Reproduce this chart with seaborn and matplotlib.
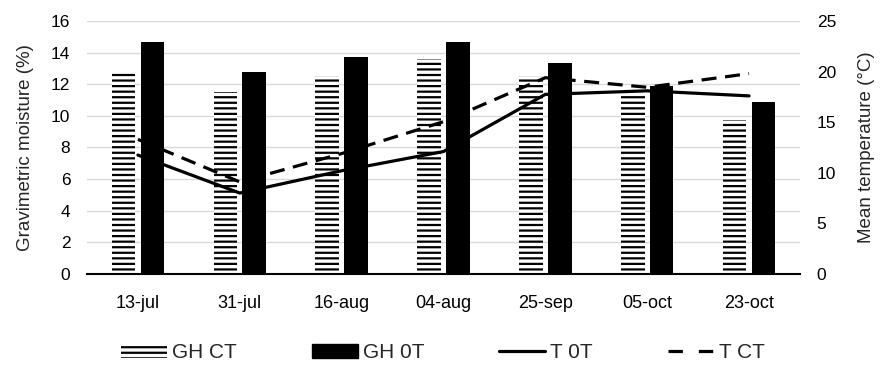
import numpy as np
import pandas as pd
import seaborn as sns
import matplotlib.pyplot as plt
from matplotlib.patches import Patch
from matplotlib.lines import Line2D

# data
dates = ['13-jul', '31-jul', '16-aug', '04-aug', '25-sep', '05-oct', '23-oct']
gh_ct = [12.85, 11.5, 12.55, 13.6, 12.55, 11.3, 9.75]   # gravimetric moisture (%)
gh_0t = [14.7, 12.8, 13.7, 14.7, 13.35, 11.9, 10.85]
t_0t = [11.75, 8.0, 10.2, 12.1, 17.75, 18.1, 17.6]      # mean temperature (C)
t_ct = [13.3, 9.1, 11.9, 15.05, 19.4, 18.45, 19.8]

sns.set_style('white')
plt.rcParams['font.family'] = ['Liberation Sans', 'DejaVu Sans']
plt.rcParams['hatch.linewidth'] = 1.6

moist = pd.DataFrame({
    'date': dates * 2,
    'moisture': gh_ct + gh_0t,
    'series': ['GH CT'] * len(dates) + ['GH 0T'] * len(dates),
})

fig = plt.figure(figsize=(8.86, 3.66), dpi=100)
ax = fig.add_axes([0.0982, 0.2514, 0.8047, 0.6912])

sns.barplot(data=moist, x='date', y='moisture', hue='series',
            palette={'GH CT': 'white', 'GH 0T': 'black'},
            width=0.565, gap=0.18, saturation=1, errorbar=None,
            linewidth=0, edgecolor='black', legend=False, ax=ax)

# hatch the GH CT bars (first hue level)
for p in ax.patches[:len(dates)]:
    p.set_hatch('---')
    p.set_edgecolor('black')
    p.set_linewidth(0)

ax.set_ylim(0, 16)
ax.set_yticks(np.arange(0, 17, 2))
ax.set_xlim(-0.5, len(dates) - 0.5)
ax.set_xlabel('')
ax.set_ylabel('Gravimetric moisture (%)', fontsize=13.5, labelpad=12)
ax.yaxis.grid(True, color='#d9d9d9', linewidth=1.0)
ax.set_axisbelow(True)
for s in ['left', 'top', 'right']:
    ax.spines[s].set_visible(False)
ax.spines['bottom'].set_color('black')
ax.spines['bottom'].set_linewidth(1.5)
ax.tick_params(axis='y', length=0, labelsize=12.5, pad=12, colors='black')
ax.tick_params(axis='x', which='major', length=0, labelsize=13, pad=15, colors='black')
ax.set_xticks(np.arange(-0.5, len(dates), 1), minor=True)
ax.tick_params(axis='x', which='minor', length=6, width=1.5, color='black', direction='out')

# temperature on the right axis
ax2 = ax.twinx()
sns.lineplot(x=dates, y=t_0t, color='black', linewidth=2.3, sort=False, ax=ax2)
sns.lineplot(x=dates, y=t_ct, color='black', linewidth=2.3, sort=False,
             dashes=False, ax=ax2)
ax2.lines[-1].set_dashes((4.7, 2.7))
ax2.set_ylim(0, 25)
ax2.set_yticks(np.arange(0, 26, 5))
ax2.set_ylabel('Mean temperature (°C)', fontsize=13.5, labelpad=16)
for s in ['left', 'top', 'right', 'bottom']:
    ax2.spines[s].set_visible(False)
ax2.tick_params(axis='y', length=0, labelsize=12.5, pad=12, colors='black')

handles = [
    Patch(facecolor='white', edgecolor='black', hatch='---', linewidth=0),
    Patch(facecolor='black', edgecolor='black'),
    Line2D([], [], color='black', linewidth=2.3),
    Line2D([], [], color='black', linewidth=2.3, dashes=(4.5, 5)),
]
fig.legend(handles, ['GH CT', 'GH 0T', 'T 0T', 'T CT'], loc='center',
           bbox_to_anchor=(0.5, 0.036), ncol=4, frameon=False,
           prop={'size': 15},
           handlelength=2.2, handleheight=0.6, handletextpad=0.25,
           columnspacing=3.6)

fig.savefig('out.png', dpi=100)
